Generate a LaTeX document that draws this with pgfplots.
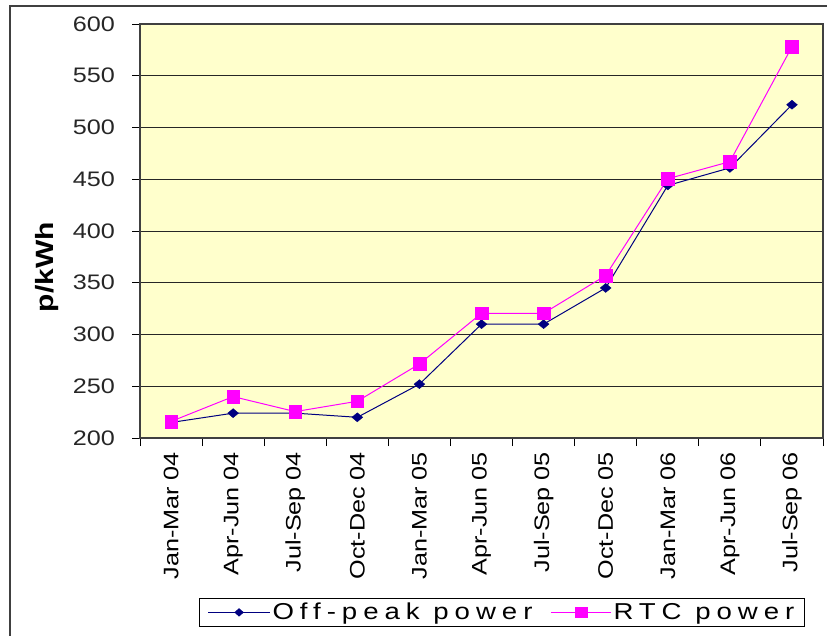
\documentclass[border=0pt]{standalone}
\usepackage{fontspec}
\setmainfont{Liberation Sans}[FakeStretch=1.2]
\newfontfamily\legfont{Liberation Sans}[FakeStretch=1.2, LetterSpace=26]
\usepackage{pgfplots}
\pgfplotsset{compat=1.18}
\definecolor{bg}{HTML}{FFFFCC}
\definecolor{navy}{HTML}{000080}
\definecolor{mag}{HTML}{FF00FF}
\begin{document}
\begin{tikzpicture}
\path[use as bounding box] (0pt,0pt) rectangle (827pt,635pt);
\draw[line width=1.3pt, black!75] (10pt,-20pt) -- (10pt,629pt) -- (860pt,629pt);
\begin{axis}[
  at={(140pt,197pt)}, anchor=south west,
  scale only axis, width=683pt, height=414pt,
  xmin=-0.5, xmax=10.5, ymin=200, ymax=600,
  ytick={200,250,...,600},
  xtick={0,...,10},
  xticklabels={Jan-Mar 04,Apr-Jun 04,Jul-Sep 04,Oct-Dec 04,Jan-Mar 05,Apr-Jun 05,Jul-Sep  05,Oct-Dec  05,Jan-Mar 06,Apr-Jun 06,Jul-Sep 06},
  minor xtick={-0.5,0.5,...,10.5},
  minor ytick={200,250,...,600},
  tick pos=left,
  tick align=outside,
  major tick length=0pt,
  minor tick length=8pt,
  tick style={black, line width=1pt},
  ymajorgrids,
  grid style={black!85, line width=0.9pt},
  axis background/.style={fill=bg},
  axis line style={black!75, line width=1.2pt},
  x tick label style={rotate=90, anchor=east, font=\fontsize{21}{24}\selectfont, inner sep=0pt, outer sep=0pt},
  xticklabel shift=14pt,
  y tick label style={font=\fontsize{21}{24}\selectfont, text=black!85, inner sep=0pt},
  yticklabel shift=25pt,
  /pgf/number format/assume math mode=true,
  ylabel={\textbf{p/kWh}},
  ylabel style={font=\fontsize{25}{28}\selectfont, at={(rel axis cs:-0.136,0.413)}, anchor=center, rotate=0},
  legend columns=2,
  legend style={at={(0.53,-0.386)}, anchor=north, draw=black, line width=1pt, fill=white,
    font=\legfont\fontsize{23}{26}\selectfont, inner xsep=8pt, inner ysep=3pt,
    /tikz/every even column/.append style={column sep=16pt}},
]
\addplot[navy, line width=1pt, mark=diamond*, mark size=9pt, mark options={line width=0.4pt, xscale=0.8, yscale=0.5},
  legend image code/.code={
    \draw[navy, line width=1pt] (0pt,0pt) -- (62pt,0pt);
    \fill[navy] (31pt,3.5pt) -- (35pt,0pt) -- (31pt,-3.5pt) -- (27pt,0pt) -- cycle;
  }]
coordinates {(0,215) (1,224) (2,224) (3,220) (4,252) (5,310) (6,310) (7,345) (8,444) (9,461) (10,522)};
\addlegendentry{Off-peak power}
\addplot[mag, line width=1pt, mark=square*, mark size=6.3pt, mark options={line width=0.4pt},
  legend image code/.code={
    \draw[mag, line width=1pt] (0pt,0pt) -- (60pt,0pt);
    \fill[mag] (24pt,-5pt) rectangle (36pt,5pt);
  }]
coordinates {(0,216) (1,240) (2,225.5) (3,235.5) (4,271.5) (5,320.5) (6,320.5) (7,357) (8,450.5) (9,467) (10,578)};
\addlegendentry{RTC power}
\end{axis}
\end{tikzpicture}
\end{document}
